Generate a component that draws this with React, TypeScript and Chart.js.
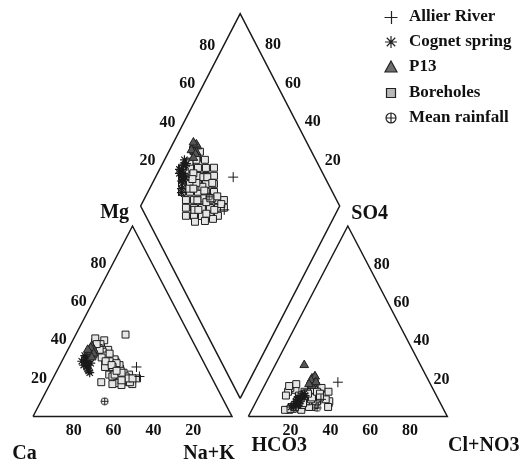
import React, { useEffect, useRef } from 'react';
import { Chart, registerables } from 'chart.js';

Chart.register(...registerables);

// ---------- Data (meq %) ----------
// Boreholes
const boreholeMg = [39, 37, 40, 35, 36, 41, 38, 33, 31, 29, 37, 34, 32, 28, 26, 36, 33, 30, 25, 24, 35, 31, 27, 24, 22, 30, 28, 23, 21, 22, 19, 26, 22, 25, 20, 18, 20, 18, 21, 17.5, 19, 17, 17, 16.5, 18, 43, 34, 30, 27, 23, 32, 29, 25, 21, 36, 33, 28, 24, 35, 31, 26, 22, 20, 19, 29, 23, 38, 27, 24, 20];
const boreholeNa = [11.7, 15.7, 15.8, 20.3, 13.3, 10.8, 14.9, 18.9, 22.9, 26.9, 12.9, 17.0, 21.0, 25.0, 29.0, 15.0, 19.1, 23.1, 27.1, 31.1, 17.1, 21.1, 25.1, 29.1, 33.2, 21.2, 25.2, 29.2, 33.2, 37.3, 40.3, 23.2, 27.3, 31.3, 35.3, 39.3, 42.3, 25.3, 29.4, 33.4, 37.4, 41.4, 31.4, 36.2, 39.7, 25, 18, 26, 30, 34, 20, 24, 28, 36, 14, 22, 28, 32, 16, 19, 27, 30, 38, 35, 22, 33, 13, 26, 30, 40];
const boreholeSO4 = [15, 7, 12, 15, 11, 14, 13, 10, 11, 13, 15, 17, 9, 13, 8, 13, 10, 12, 8, 5, 11, 16, 11, 7, 12, 4, 7, 10, 6, 11, 9, 3.5, 6, 8, 5, 9, 12, 3.5, 5, 4, 6, 8, 4, 3.5, 5, 9, 12, 10, 9, 13, 7, 15, 5, 11, 7, 10, 12, 8, 14, 8, 6, 7, 9, 7, 11, 10, 12, 13, 12, 10];
const boreholeCl = [25.9, 36.9, 28.8, 29.3, 25.3, 16.7, 21.7, 28.7, 31.7, 33.8, 13.6, 15.6, 27.6, 27.6, 36.7, 13.5, 20.5, 22.5, 30.5, 37.6, 13.4, 12.5, 21.5, 29.5, 28.5, 20.3, 21.4, 22.4, 30.4, 29.4, 34.4, 18.8, 20.3, 22.3, 29.3, 29.4, 29.4, 16.7, 19.2, 24.2, 26.2, 28.3, 19.2, 24.9, 28.0, 26, 23, 26, 25, 25, 22, 24, 21, 30, 24, 24, 24, 26, 26, 25, 24, 21, 27, 24, 20, 27, 24, 28, 30, 31];

// Cognet spring
const cognetMg = [31, 29, 33, 28, 30, 32, 27, 29, 31, 26, 28, 30, 34, 25, 27, 24, 23];
const cognetNa = [11, 10, 12, 13, 11, 10, 14, 13, 12, 14, 15, 13, 11, 15, 12, 16, 17];
const cognetSO4 = [9, 8, 10, 7, 8, 11, 6, 9, 12, 6, 8, 10, 11, 6, 7, 5, 5];
const cognetCl = [21, 21, 23, 22, 20, 23, 22, 20, 22, 21, 22, 20, 21, 21, 22, 20, 19];

// P13
const p13Mg = [35, 34, 36, 33, 37, 32, 35, 34, 36, 33, 35, 31];
const p13Na = [12, 11, 12, 13, 11, 14, 13, 12, 11, 14, 10, 14];
const p13SO4 = [27, 20, 19, 21, 18, 20, 17, 21, 16, 19, 18, 17];
const p13Cl = [14.6, 23, 24, 23, 25, 22, 24, 23, 24, 22, 25, 22];

// Allier River
const allierMg = [26, 21];
const allierNa = [39, 43];
const allierSO4 = [18, 9];
const allierCl = [36, 32];

// Mean rainfall
const rainMg = [8];
const rainNa = [32];
const rainSO4 = [4.5];
const rainCl = [32.3];

// Tick labels
const edgeTicks = [20, 40, 60, 80];
const caTicks = [80, 60, 40, 20];
const clTicks = [20, 40, 60, 80];

const legendLabels = ['Allier River', 'Cognet spring', 'P13', 'Boreholes', 'Mean rainfall'];

// ---------- Piper geometry (data units) ----------
const GAP = 0.082;
const D_BX = 1.041;
const D_BY = 0.095;
const D_H = 1.01;

type P = { x: number; y: number };

const cationXY = (mg: number, na: number): P => ({ x: na / 100 + mg / 200, y: mg / 100 });
const anionXY = (so4: number, cl: number): P => ({ x: 1 + GAP + cl / 100 + so4 / 200, y: so4 / 100 });
const diamondXY = (na: number, so4: number, cl: number): P => {
  const u = 1 - na / 100;
  const v = (so4 + cl) / 100;
  return { x: D_BX + 0.5 * (v - u), y: D_BY + D_H * (u + v) };
};

function piperPoints(mg: number[], na: number[], so4: number[], cl: number[]): P[] {
  const pts: P[] = [];
  for (let i = 0; i < mg.length; i++) {
    pts.push(cationXY(mg[i], na[i]));
    pts.push(anionXY(so4[i], cl[i]));
    pts.push(diamondXY(na[i], so4[i], cl[i]));
  }
  return pts;
}

const DB: P = { x: D_BX, y: D_BY };
const DL: P = { x: D_BX - 0.5, y: D_BY + D_H };
const DR: P = { x: D_BX + 0.5, y: D_BY + D_H };
const DT: P = { x: D_BX, y: D_BY + 2 * D_H };

const FONT = '"Liberation Serif", "Times New Roman", serif';

function makePlusCircle(size: number): HTMLCanvasElement {
  const c = document.createElement('canvas');
  c.width = size;
  c.height = size;
  const g = c.getContext('2d')!;
  g.strokeStyle = '#222';
  g.lineWidth = 1;
  const m = size / 2;
  g.beginPath();
  g.arc(m, m, m - 1, 0, Math.PI * 2);
  g.stroke();
  g.beginPath();
  g.moveTo(1, m);
  g.lineTo(size - 1, m);
  g.moveTo(m, 1);
  g.lineTo(m, size - 1);
  g.stroke();
  return c;
}

const labelsPlugin = {
  id: 'piperLabels',
  afterDraw(chart: any) {
    const ctx: CanvasRenderingContext2D = chart.ctx;
    const xs = chart.scales.x;
    const ys = chart.scales.y;
    const px = (p: P) => ({ x: xs.getPixelForValue(p.x), y: ys.getPixelForValue(p.y) });
    ctx.save();
    ctx.fillStyle = '#111';
    ctx.font = `bold 16px ${FONT}`;
    ctx.textBaseline = 'middle';

    // cation left edge (Mg)
    ctx.textAlign = 'right';
    edgeTicks.forEach((t) => {
      const p = px({ x: t / 200, y: t / 100 });
      ctx.fillText(String(t), p.x - 6, p.y);
    });
    // anion right edge (SO4)
    ctx.textAlign = 'left';
    edgeTicks.forEach((t) => {
      const p = px({ x: 1 + GAP + 1 - t / 200, y: t / 100 });
      ctx.fillText(String(t), p.x + 6, p.y + 1);
    });
    // bottoms
    ctx.textAlign = 'center';
    caTicks.forEach((t) => {
      const p = px({ x: 1 - t / 100, y: 0 });
      ctx.fillText(String(t), p.x + 1, p.y + 14.5);
    });
    clTicks.forEach((t) => {
      const p = px({ x: 1 + GAP + t / 100, y: 0 });
      ctx.fillText(String(t), p.x + 2.5, p.y + 14.5);
    });
    // diamond upper edges
    edgeTicks.forEach((t) => {
      const f = t / 100;
      const a = px({ x: DL.x + f * (DT.x - DL.x), y: DL.y + f * (DT.y - DL.y) });
      ctx.fillText(String(t), a.x - 13, a.y - 6.5);
      const b = px({ x: DR.x + f * (DT.x - DR.x), y: DR.y + f * (DT.y - DR.y) });
      ctx.fillText(String(t), b.x + 13, b.y - 7);
    });

    // axis names
    ctx.font = `bold 20px ${FONT}`;
    const l = px(DL);
    const r = px(DR);
    ctx.fillText('Mg', l.x - 26, l.y + 7);
    ctx.fillText('SO4', r.x + 30, r.y + 8);
    const c0 = px({ x: 0, y: 0 });
    const c1 = px({ x: 1, y: 0 });
    const a0 = px({ x: 1 + GAP, y: 0 });
    const a1 = px({ x: 2 + GAP, y: 0 });
    ctx.fillText('Ca', c0.x - 8.5, c0.y + 37);
    ctx.fillText('Na+K', c1.x - 23, c1.y + 37);
    ctx.fillText('HCO3', a0.x + 31, a0.y + 29);
    ctx.fillText('Cl+NO3', a1.x + 36.5, a1.y + 29);

    // legend
    const rows = [17, 42, 67, 93, 118];
    const mx = 391;
    ctx.font = `bold 17px ${FONT}`;
    ctx.textAlign = 'left';
    ctx.strokeStyle = '#222';
    ctx.lineWidth = 1.2;
    rows.forEach((y, i) => {
      ctx.fillStyle = '#111';
      ctx.fillText(legendLabels[i], 409, y);
      ctx.beginPath();
      if (i === 0) {
        ctx.moveTo(mx - 6.5, y + 0.5);
        ctx.lineTo(mx + 6.5, y + 0.5);
        ctx.moveTo(mx + 0.5, y - 6);
        ctx.lineTo(mx + 0.5, y + 7);
        ctx.stroke();
      } else if (i === 1) {
        for (let k = 0; k < 4; k++) {
          const ang = (k * Math.PI) / 4;
          ctx.moveTo(mx + Math.cos(ang) * 6, y + Math.sin(ang) * 6);
          ctx.lineTo(mx - Math.cos(ang) * 6, y - Math.sin(ang) * 6);
        }
        ctx.stroke();
      } else if (i === 2) {
        ctx.moveTo(mx, y - 6);
        ctx.lineTo(mx + 6, y + 5);
        ctx.lineTo(mx - 6, y + 5);
        ctx.closePath();
        ctx.fillStyle = '#6e6e6e';
        ctx.fill();
        ctx.stroke();
      } else if (i === 3) {
        ctx.rect(mx - 4.5, y - 4.5, 9, 9);
        ctx.fillStyle = '#b8b8b8';
        ctx.fill();
        ctx.stroke();
      } else {
        ctx.arc(mx, y, 5, 0, Math.PI * 2);
        ctx.moveTo(mx - 5, y);
        ctx.lineTo(mx + 5, y);
        ctx.moveTo(mx, y - 5);
        ctx.lineTo(mx, y + 5);
        ctx.stroke();
      }
    });
    ctx.restore();
  },
};

export default function App() {
  const ref = useRef<HTMLCanvasElement | null>(null);

  useEffect(() => {
    if (!ref.current) return;
    const frameStyle = {
      showLine: true,
      pointRadius: 0,
      borderColor: '#1a1a1a',
      borderWidth: 1.5,
      backgroundColor: 'transparent',
      fill: false,
      order: 10,
    };
    const chart = new Chart(ref.current, {
      type: 'scatter',
      data: {
        datasets: [
          { label: 'cation', data: [{ x: 0, y: 0 }, { x: 1, y: 0 }, { x: 0.5, y: 1 }, { x: 0, y: 0 }], ...frameStyle } as any,
          { label: 'anion', data: [{ x: 1 + GAP, y: 0 }, { x: 2 + GAP, y: 0 }, { x: 1.5 + GAP, y: 1 }, { x: 1 + GAP, y: 0 }], ...frameStyle } as any,
          { label: 'diamond', data: [DB, DR, DT, DL, DB], ...frameStyle } as any,
          {
            label: 'Boreholes',
            data: piperPoints(boreholeMg, boreholeNa, boreholeSO4, boreholeCl),
            pointStyle: 'rect',
            pointRadius: 4.9,
            backgroundColor: '#e6e6e6',
            borderColor: '#1e1e1e',
            borderWidth: 1,
            order: 5,
          },
          {
            label: 'Cognet spring',
            data: piperPoints(cognetMg, cognetNa, cognetSO4, cognetCl),
            pointStyle: 'star',
            pointRadius: 4.5,
            borderColor: '#1a1a1a',
            borderWidth: 1.2,
            order: 4,
          },
          {
            label: 'P13',
            data: piperPoints(p13Mg, p13Na, p13SO4, p13Cl),
            pointStyle: 'triangle',
            pointRadius: 5,
            backgroundColor: '#555',
            borderColor: '#222',
            borderWidth: 1,
            order: 3,
          },
          {
            label: 'Allier River',
            data: piperPoints(allierMg, allierNa, allierSO4, allierCl),
            pointStyle: 'cross',
            pointRadius: 5,
            borderColor: '#1a1a1a',
            borderWidth: 1,
            order: 2,
          },
          {
            label: 'Mean rainfall',
            data: piperPoints(rainMg, rainNa, rainSO4, rainCl),
            pointStyle: makePlusCircle(9) as any,
            pointRadius: 4.5,
            order: 1,
          },
        ],
      },
      options: {
        animation: false,
        responsive: false,
        events: [],
        layout: { padding: 0, autoPadding: false },
        plugins: { legend: { display: false }, tooltip: { enabled: false } },
        scales: {
          x: { type: 'linear', display: false, min: -33 / 199, max: (524 - 33) / 199 },
          y: { type: 'linear', display: false, min: (416.5 - 463) / 190.5, max: 416.5 / 190.5 },
        },
      },
      plugins: [labelsPlugin],
    });
    return () => chart.destroy();
  }, []);

  return (
    <div style={{ position: 'absolute', left: 0, top: 0, width: 524, height: 463, background: '#fff' }}>
      <canvas ref={ref} width={524} height={463} style={{ display: 'block' }} />
    </div>
  );
}
